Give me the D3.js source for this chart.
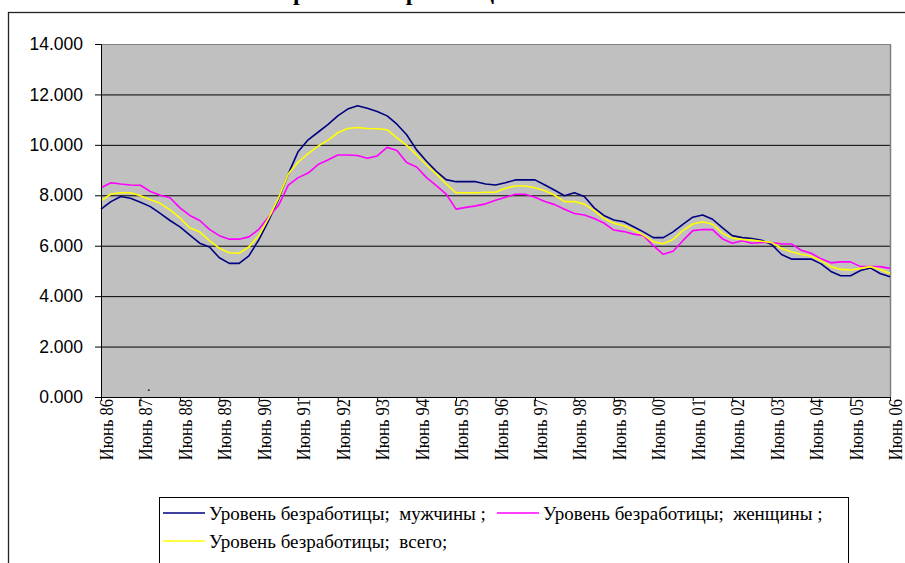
<!DOCTYPE html>
<meta charset="utf-8">
<style>
  body { margin: 0; background: #fff; }
  svg { display: block; font-family: "Liberation Serif", "Times New Roman", serif; }
</style>
<body>
<svg id="chart" width="905" height="563"></svg>
<script src="https://d3js.org/d3.v7.min.js"></script>
<script>
// quarterly readings, June 1986 .. June 2006 (81 points each)
var men = [7.45, 7.75, 7.95, 7.88, 7.72, 7.55, 7.28, 7.0, 6.75, 6.42, 6.1, 5.95, 5.52, 5.3, 5.3, 5.6,
  6.23, 7.0, 7.85, 8.85, 9.74, 10.2, 10.5, 10.8, 11.15, 11.42, 11.55, 11.45, 11.32, 11.15, 10.82, 10.4,
  9.8, 9.35, 8.95, 8.62, 8.54, 8.54, 8.54, 8.45, 8.41, 8.5, 8.61, 8.61, 8.61, 8.41, 8.2, 7.98,
  8.1, 7.95, 7.5, 7.2, 7.02, 6.95, 6.75, 6.55, 6.32, 6.32, 6.55, 6.85, 7.13, 7.22, 7.05, 6.72,
  6.4, 6.32, 6.28, 6.22, 6.05, 5.65, 5.47, 5.47, 5.47, 5.28, 4.98, 4.81, 4.81, 5.02, 5.12, 4.9, 4.77];

var women = [8.3, 8.5, 8.45, 8.41, 8.4, 8.15, 8.0, 7.9, 7.5, 7.2, 7.0, 6.65, 6.4, 6.26, 6.26, 6.35,
  6.65, 7.15, 7.6, 8.4, 8.7, 8.88, 9.22, 9.4, 9.6, 9.6, 9.58, 9.47, 9.56, 9.9, 9.78, 9.3,
  9.12, 8.7, 8.38, 8.05, 7.45, 7.52, 7.58, 7.66, 7.8, 7.92, 8.04, 8.04, 7.92, 7.75, 7.63, 7.45,
  7.28, 7.22, 7.08, 6.9, 6.62, 6.56, 6.46, 6.4, 6.0, 5.66, 5.78, 6.2, 6.6, 6.64, 6.64, 6.28,
  6.1, 6.2, 6.1, 6.13, 6.13, 6.07, 6.07, 5.82, 5.7, 5.48, 5.32, 5.36, 5.36, 5.17, 5.17, 5.17, 5.1];

var total = [7.78, 8.05, 8.1, 8.1, 7.98, 7.82, 7.68, 7.42, 7.1, 6.7, 6.55, 6.2, 5.9, 5.72, 5.7, 5.95,
  6.4, 7.1, 7.9, 8.85, 9.32, 9.65, 9.95, 10.18, 10.48, 10.65, 10.69, 10.65, 10.64, 10.6, 10.28, 9.98,
  9.6, 9.2, 8.85, 8.45, 8.1, 8.1, 8.1, 8.12, 8.12, 8.28, 8.37, 8.37, 8.3, 8.18, 8.0, 7.75,
  7.75, 7.65, 7.39, 7.08, 6.89, 6.79, 6.62, 6.42, 6.16, 6.08, 6.25, 6.6, 6.86, 6.95, 6.85, 6.5,
  6.3, 6.25, 6.22, 6.18, 6.13, 5.89, 5.76, 5.66, 5.58, 5.4, 5.17, 5.06, 5.04, 5.1, 5.17, 5.06, 4.9];

var yearLabels = ["Июнь 86", "Июнь 87", "Июнь 88", "Июнь 89", "Июнь 90", "Июнь 91", "Июнь 92",
  "Июнь 93", "Июнь 94", "Июнь 95", "Июнь 96", "Июнь 97", "Июнь 98", "Июнь 99", "Июнь 00",
  "Июнь 01", "Июнь 02", "Июнь 03", "Июнь 04", "Июнь 05", "Июнь 06"];
var yTicks = [0, 2, 4, 6, 8, 10, 12, 14];

var seriesNames = ["Уровень безработицы;  мужчины ;", "Уровень безработицы;  женщины ;", "Уровень безработицы;  всего;"];
var seriesColors = ["#000080", "#ff00ff", "#ffff00"];
var seriesData = [men, women, total];

var serif = "'Liberation Serif', 'Times New Roman', serif";
var sans = "'Liberation Sans', Arial, sans-serif";

var svg = d3.select("#chart");
var margin = {top: 44, right: 15, bottom: 166, left: 101};
var width = 905 - margin.left - margin.right,
    height = 563 - margin.top - margin.bottom;

// outer chart frame (runs off the page to the right and bottom)
svg.append("rect")
  .attr("x", 8.5).attr("y", 12.5)
  .attr("width", 1000).attr("height", 1000)
  .attr("fill", "none").attr("stroke", "#222").attr("stroke-width", 1.3);

// title, mostly cut off above the frame as in the source image
svg.append("text")
  .attr("x", 445).attr("y", 0)
  .attr("text-anchor", "middle")
  .style("font-family", serif)
  .style("font-weight", "bold").style("font-size", "24px")
  .text("Уровень безработицы в России");

var g = svg.append("g").attr("transform", "translate(" + margin.left + "," + margin.top + ")");

var start = new Date(1986, 5, 1);
var x = d3.scaleTime()
  .domain([start, d3.timeYear.offset(start, 20)])
  .range([0, width]);
var y = d3.scaleLinear().domain([0, 14]).range([height, 0]);

function dateAt(i) { return d3.timeMonth.offset(start, 3 * i); }

g.append("rect")
  .attr("width", width).attr("height", height)
  .attr("fill", "#c0c0c0");

// gridlines
g.selectAll(".grid")
  .data(yTicks.filter(function(d) { return d > 0; }))
  .enter().append("line")
  .attr("x1", 0).attr("x2", width)
  .attr("y1", function(d) { return y(d) + 0.5; })
  .attr("y2", function(d) { return y(d) + 0.5; })
  .attr("stroke", function(d) { return d === 14 ? "#808080" : "#000"; })
  .attr("stroke-width", 1);

// right border of plot area
g.append("line")
  .attr("x1", width + 0.5).attr("x2", width + 0.5)
  .attr("y1", 0).attr("y2", height)
  .attr("stroke", "#808080").attr("stroke-width", 1.5);

// stray dot inside the plot
g.append("text").attr("x", 46).attr("y", 347).style("font-size", "14px").text(".");

var line = d3.line()
  .x(function(d, i) { return x(dateAt(i)); })
  .y(function(d) { return y(d); });

g.selectAll(".series")
  .data(seriesData)
  .enter().append("path")
  .attr("d", line)
  .attr("fill", "none")
  .attr("stroke", function(d, i) { return seriesColors[i]; })
  .attr("stroke-width", 1.6)
  .attr("stroke-linejoin", "round");

// y axis
var yAxis = g.append("g")
  .call(d3.axisLeft(y).tickValues(yTicks).tickFormat(d3.format(".3f")).tickSize(6).tickPadding(12));
yAxis.select(".domain").attr("stroke", "#000");
yAxis.selectAll("text")
  .style("font-family", sans).style("font-size", "17.5px").attr("fill", "#000");

// x axis
var yearDates = yearLabels.map(function(d, i) { return d3.timeYear.offset(start, i); });
var xAxis = g.append("g")
  .attr("transform", "translate(0," + height + ")")
  .call(d3.axisBottom(x).tickValues(yearDates)
    .tickFormat(function(d, i) { return yearLabels[i]; })
    .tickSize(4).tickSizeOuter(0));
xAxis.select(".domain").attr("stroke", "#000");
xAxis.selectAll("text")
  .style("font-family", serif).style("font-size", "16.5px").attr("fill", "#000")
  .attr("transform", "rotate(-90) scale(1,1.18)")
  .attr("text-anchor", "end")
  .attr("x", -2)
  .attr("y", 4)
  .attr("dy", "0.35em");

// legend
var legend = svg.append("g");
legend.append("rect")
  .attr("x", 159.5).attr("y", 497.5)
  .attr("width", 689).attr("height", 120)
  .attr("fill", "#fff").attr("stroke", "#000");

var legendPos = [[163, 513], [497, 513], [163, 541]];
var items = legend.selectAll(".item")
  .data(seriesNames)
  .enter().append("g")
  .attr("transform", function(d, i) { return "translate(" + legendPos[i][0] + "," + legendPos[i][1] + ")"; });
items.append("line")
  .attr("x1", 0).attr("x2", 42)
  .attr("stroke", function(d, i) { return seriesColors[i]; })
  .attr("stroke-width", 1.5);
items.append("text")
  .attr("x", 46).attr("dy", "0.35em")
  .style("font-family", serif).style("font-size", "19px")
  .style("white-space", "pre")
  .text(function(d) { return d; });
</script>
</body>
